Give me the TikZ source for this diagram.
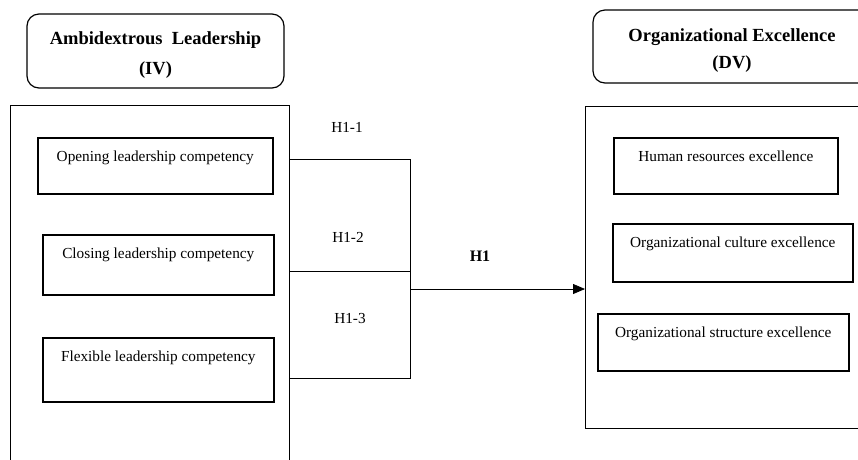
\documentclass[tikz,border=0pt]{standalone}
\usepackage{fontspec}
\setmainfont{Liberation Serif}
\usetikzlibrary{arrows.meta,positioning}

\begin{document}
\begin{tikzpicture}[x=1pt, y=-1pt,
      every node/.append style={font=\fontsize{15.3}{18}\selectfont},
      head/.style={draw, line width=1.2pt, rounded corners=12pt, align=center,
        font=\fontsize{18.5}{27}\selectfont\bfseries},
      frame/.style={draw, line width=1.2pt, anchor=north west},
      inbox/.style={draw, line width=1.6pt, anchor=north west, inner ysep=0pt,
        text height=24pt, text depth=#1}]
    \tikzstyle{hyp} = [inner sep=0pt]
    \useasboundingbox (0,0) rectangle (858,459);
    % headers
    \node[head, minimum width=257, minimum height=74] (ivhead) at (155.5,51) {\rule{0pt}{21pt}Ambidextrous~ Leadership\\[3pt](IV)};
    \node[head, minimum width=278, minimum height=73] (dvhead) at (732,46.5) {\rule{0pt}{21pt}Organizational Excellence\\(DV)};
    % outer frames
    \node[frame, minimum width=279, minimum height=370] (ivbox) at (10,105) {};
    \node[frame, minimum width=285, minimum height=322] (dvbox) at (585,106) {};
    % dimensions of the IV
    \node[inbox=32pt, minimum width=235] (opening) at (37,137) {Opening leadership competency};
    \node[inbox=36pt, minimum width=231] (closing) at (42,234) {Closing leadership competency};
    \node[inbox=40pt, minimum width=231] (flexible) at (42,337) {Flexible leadership competency};
    % dimensions of the DV
    \node[inbox=32pt, minimum width=224] (human) at (613,137) {Human resources excellence};
    \node[inbox=34pt, minimum width=240] (culture) at (612,223) {Organizational culture excellence};
    \node[inbox=33pt, minimum width=251] (structure) at (597,313) {Organizational structure excellence};
    % links
    \coordinate (j1) at (410,159);
    \coordinate (j2) at (410,271);
    \coordinate (j3) at (410,378);
    \coordinate (jout) at (410,289);
    \draw[line width=0.8pt] (ivbox.east |- j1) -- (j1) -- (j3) -- (ivbox.east |- j3);
    \draw[line width=0.8pt] (ivbox.east |- j2) -- (j2);
    \draw[line width=0.8pt, -{Triangle[length=12pt,width=10pt]}] (jout) -- (jout -| dvbox.west);
    \node[hyp] (h11) at (347,127) {H1-1};
    \node[hyp] (h12) at (348,237) {H1-2};
    \node[hyp] (h13) at (350,318) {H1-3};
    \node[hyp, font=\fontsize{16}{18}\selectfont\bfseries] (h1) at (480,256) {H1};
\end{tikzpicture}
\end{document}
